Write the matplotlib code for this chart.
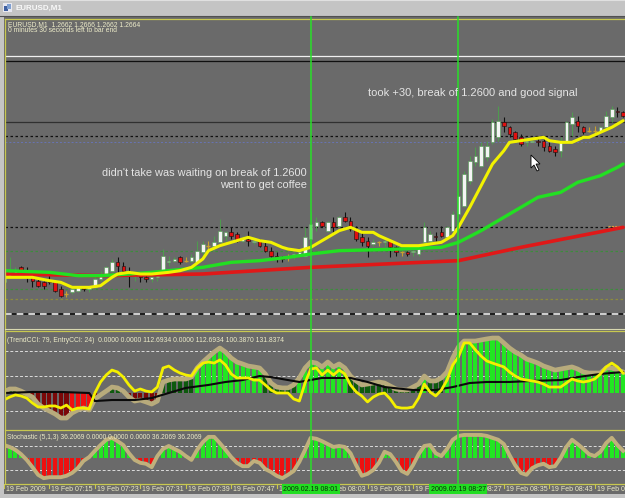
import matplotlib
matplotlib.use("Agg")
import matplotlib.pyplot as plt
from matplotlib.patches import Rectangle, Polygon
from matplotlib.lines import Line2D
import matplotlib.transforms as mtransforms

plt.rcParams['font.family'] = ['Liberation Sans', 'DejaVu Sans']

# ---------------- data ----------------
bars = list(range(110))

opens = [1.2568, 1.2572, 1.2573, 1.2577, 1.2574, 1.2571, 1.2569, 1.2568, 1.2569, 1.2568,
         1.2564, 1.2561, 1.2562, 1.2563, 1.2565, 1.2564, 1.2565, 1.2570, 1.2572, 1.2575,
         1.2580, 1.2578, 1.2575, 1.2572, 1.2573, 1.2571, 1.2570, 1.2571, 1.2574, 1.2580,
         1.2581, 1.2583, 1.2581, 1.2581, 1.2580, 1.2586, 1.2590, 1.2590, 1.2592, 1.2596,
         1.2598, 1.2597, 1.2593, 1.2594, 1.2592, 1.2593, 1.2590, 1.2587, 1.2584, 1.2583,
         1.2583, 1.2583, 1.2584, 1.2584, 1.2594, 1.2602, 1.2604, 1.2599, 1.2604, 1.2602,
         1.2607, 1.2605, 1.2600, 1.2595, 1.2593, 1.2591, 1.2592, 1.2592, 1.2593, 1.2589,
         1.2586, 1.2586, 1.2586, 1.2585, 1.2592, 1.2593, 1.2596, 1.2598, 1.2595, 1.2599,
         1.2609, 1.2614, 1.2629, 1.2640, 1.2638, 1.2643, 1.2652, 1.2655, 1.2664, 1.2661,
         1.2658, 1.2655, 1.2652, 1.2652, 1.2653, 1.2653, 1.2650, 1.2648, 1.2647, 1.2653,
         1.2663, 1.2665, 1.2661, 1.2659, 1.2659, 1.2659, 1.2661, 1.2667, 1.2671, 1.2670]
highs = [1.2575, 1.2583, 1.2577, 1.2578, 1.2577, 1.2574, 1.2571, 1.2569, 1.2574, 1.2569,
         1.2566, 1.2563, 1.2566, 1.2566, 1.2566, 1.2566, 1.2571, 1.2575, 1.2578, 1.2582,
         1.2583, 1.2580, 1.2577, 1.2575, 1.2574, 1.2573, 1.2572, 1.2574, 1.2588, 1.2584,
         1.2583, 1.2584, 1.2583, 1.2585, 1.2593, 1.2593, 1.2593, 1.2596, 1.2606, 1.2599,
         1.2601, 1.2598, 1.2596, 1.2599, 1.2595, 1.2594, 1.2592, 1.2589, 1.2586, 1.2584,
         1.2585, 1.2586, 1.2587, 1.2601, 1.2610, 1.2607, 1.2605, 1.2605, 1.2607, 1.2608,
         1.2610, 1.2607, 1.2602, 1.2598, 1.2595, 1.2594, 1.2593, 1.2595, 1.2593, 1.2590,
         1.2587, 1.2587, 1.2588, 1.2590, 1.2604, 1.2599, 1.2598, 1.2602, 1.2602, 1.2611,
         1.2622, 1.2635, 1.2644, 1.2649, 1.2652, 1.2653, 1.2666, 1.2674, 1.2667, 1.2662,
         1.2659, 1.2657, 1.2655, 1.2655, 1.2656, 1.2655, 1.2652, 1.2650, 1.2655, 1.2665,
         1.2670, 1.2668, 1.2662, 1.2661, 1.2662, 1.2662, 1.2671, 1.2674, 1.2673, 1.2671]
lows = [1.2567, 1.2571, 1.2572, 1.2573, 1.2568, 1.2565, 1.2565, 1.2564, 1.2567, 1.2562,
        1.2559, 1.2559, 1.2561, 1.2562, 1.2563, 1.2562, 1.2564, 1.2569, 1.2571, 1.2574,
        1.2574, 1.2573, 1.2565, 1.2569, 1.2568, 1.2568, 1.2568, 1.2569, 1.2574, 1.2578,
        1.2580, 1.2579, 1.2580, 1.2580, 1.2580, 1.2583, 1.2587, 1.2587, 1.2592, 1.2593,
        1.2594, 1.2592, 1.2592, 1.2590, 1.2591, 1.2589, 1.2586, 1.2583, 1.2580, 1.2580,
        1.2581, 1.2582, 1.2583, 1.2583, 1.2593, 1.2599, 1.2601, 1.2598, 1.2598, 1.2601,
        1.2604, 1.2599, 1.2593, 1.2590, 1.2583, 1.2590, 1.2590, 1.2590, 1.2583, 1.2584,
        1.2584, 1.2584, 1.2584, 1.2584, 1.2591, 1.2591, 1.2593, 1.2595, 1.2594, 1.2599,
        1.2607, 1.2613, 1.2627, 1.2638, 1.2637, 1.2641, 1.2651, 1.2653, 1.2658, 1.2655,
        1.2652, 1.2650, 1.2650, 1.2652, 1.2650, 1.2647, 1.2646, 1.2644, 1.2643, 1.2652,
        1.2656, 1.2658, 1.2657, 1.2658, 1.2657, 1.2658, 1.2661, 1.2664, 1.2667, 1.2667]
closes = [1.2574, 1.2574, 1.2575, 1.2575, 1.2571, 1.2569, 1.2566, 1.2566, 1.2568, 1.2563,
          1.2560, 1.2561, 1.2564, 1.2565, 1.2564, 1.2565, 1.2570, 1.2573, 1.2577, 1.2580,
          1.2578, 1.2575, 1.2572, 1.2573, 1.2571, 1.2570, 1.2571, 1.2572, 1.2584, 1.2581,
          1.2582, 1.2580, 1.2581, 1.2583, 1.2587, 1.2591, 1.2590, 1.2592, 1.2599, 1.2598,
          1.2596, 1.2593, 1.2594, 1.2593, 1.2593, 1.2590, 1.2587, 1.2584, 1.2582, 1.2582,
          1.2583, 1.2585, 1.2586, 1.2595, 1.2603, 1.2604, 1.2602, 1.2604, 1.2601, 1.2607,
          1.2605, 1.2600, 1.2594, 1.2592, 1.2590, 1.2592, 1.2592, 1.2593, 1.2589, 1.2586,
          1.2586, 1.2585, 1.2587, 1.2589, 1.2601, 1.2597, 1.2595, 1.2596, 1.2601, 1.2609,
          1.2620, 1.2633, 1.2641, 1.2644, 1.2650, 1.2650, 1.2664, 1.2665, 1.2662, 1.2657,
          1.2654, 1.2651, 1.2653, 1.2653, 1.2652, 1.2649, 1.2647, 1.2646, 1.2652, 1.2664,
          1.2667, 1.2662, 1.2658, 1.2659, 1.2659, 1.2661, 1.2668, 1.2672, 1.2670, 1.2668]

# moving averages on price (vertices)
fast_ma_bars = [0, 5, 8, 10, 12, 15, 17, 19, 20, 22, 24, 26, 29, 31, 33, 35, 36, 38, 40, 42,
                43, 45, 47, 49, 50, 52, 54, 56, 58, 59, 61, 63, 65, 66, 68, 70, 72, 73, 75, 77,
                79, 80, 82, 84, 86, 88, 89, 91, 93, 95, 96, 98, 100, 102, 103, 105, 107, 108, 109]
fast_ma = [1.2571, 1.2571, 1.2569, 1.2568, 1.2565, 1.2565, 1.2566, 1.2571, 1.2573, 1.2574,
           1.2573, 1.2573, 1.2574, 1.2575, 1.2577, 1.2582, 1.2587, 1.2590, 1.2592, 1.2594,
           1.2595, 1.2593, 1.2592, 1.2589, 1.2588, 1.2587, 1.2589, 1.2593, 1.2597, 1.2599,
           1.2601, 1.2598, 1.2598, 1.2596, 1.2593, 1.2590, 1.2590, 1.2590, 1.2591, 1.2592,
           1.2596, 1.2601, 1.2613, 1.2626, 1.2639, 1.2647, 1.2652, 1.2653, 1.2654, 1.2655,
           1.2653, 1.2652, 1.2652, 1.2655, 1.2655, 1.2658, 1.2661, 1.2663, 1.2665]
mid_ma_bars = [0, 8, 13, 17, 22, 26, 29, 35, 40, 45, 50, 54, 59, 70, 77, 80, 84, 87, 91, 94,
               98, 101, 105, 108, 109]
mid_ma = [1.2575, 1.2574, 1.2572, 1.2572, 1.2573, 1.2574, 1.2575, 1.2577, 1.2580, 1.2581,
          1.2583, 1.2585, 1.2587, 1.2588, 1.2589, 1.2592, 1.2599, 1.2605, 1.2613, 1.2619,
          1.2622, 1.2628, 1.2632, 1.2637, 1.2639]
slow_ma_bars = [0, 17, 35, 54, 80, 91, 100, 109]
slow_ma = [1.2573, 1.2572, 1.2573, 1.2577, 1.2581, 1.2589, 1.2595, 1.2601]

# horizontal line objects on the price chart
hline_prices = [1.2704, 1.2701, 1.2664, 1.2656, 1.2652, 1.2601, 1.2587, 1.2564, 1.2558, 1.2549]

# CCI window
trend_cci = [6, 23, 23, 11, -6, -23, -63, -86, -103, -120,
             -143, -143, -114, -97, -86, -97, -34, -11, 11, 34,
             29, 11, -23, -46, -40, -51, -63, -46, 63, 74,
             80, 80, 80, 91, 143, 177, 206, 234, 257, 234,
             200, 177, 166, 154, 149, 143, 109, 57, 34, 29,
             29, 46, 86, 143, 177, 171, 149, 177, 149, 166,
             143, 97, 69, 46, 51, 57, 63, 57, 40, 23,
             17, 17, 34, 51, 97, 69, 69, 86, 120, 200,
             263, 297, 297, 297, 303, 309, 314, 314, 286, 257,
             234, 217, 194, 183, 171, 154, 143, 131, 137, 143,
             149, 137, 120, 114, 114, 114, 143, 143, 131, 120]
trend_state = ("GGGGRRRRRR"
               "RRrrrrRRGG"
               "GGRRRRRRGG"
               "GGGGgggggg"
               "ggggggGGGG"
               "GGgggggggg"
               "gGGGGGGGGG"
               "GGGGgGGGgg"
               "gggggggggg"
               "gggggggggg"
               "gggggggggg")
entry_cci = [-40, -23, -11, -17, -29, -57, -80, -80, -74, -74,
             -86, -69, -97, -86, -86, -91, 0, 63, 103, 131,
             120, 91, 46, 11, 23, 11, 6, 34, 143, 154,
             131, 114, 103, 97, 143, 171, 177, 171, 189, 160,
             109, 86, 86, 86, 74, 74, 46, 17, 0, 0,
             0, -34, -46, 57, 137, 143, 103, 131, 103, 131,
             109, 46, 6, -17, -51, -23, -6, 0, -34, -80,
             -86, -86, -80, -29, 51, 6, -17, 17, 74, 160,
             206, 286, 286, 246, 211, 183, 171, 160, 149, 120,
             97, 80, 74, 69, 63, 51, 34, 34, 34, 57,
             80, 69, 63, 69, 80, 109, 149, 171, 149, 114]
cci_avg_bars = [0, 5, 10, 15, 16, 19, 23, 26, 29, 32, 36, 39, 42, 45, 47, 50, 52, 56, 61, 64,
                67, 72, 76, 79, 82, 85, 89, 93, 98, 101, 105, 109]
cci_avg = [0, 6, 6, 0, -46, -40, -40, -29, 0, 29, 46, 63, 74, 97, 91, 74, 63, 86, 86, 63,
           34, 17, 17, 34, 57, 63, 63, 69, 74, 91, 109, 120]
cci_levels = [240, 100, -100]

# Stochastic window
stoch = [77, 73, 67, 58, 46, 31, 15, 8, 10, 10,
         10, 13, 19, 29, 44, 52, 65, 77, 88, 92,
         85, 77, 60, 46, 40, 38, 31, 54, 69, 75,
         69, 63, 54, 46, 67, 83, 94, 94, 81, 67,
         52, 40, 33, 33, 44, 40, 27, 21, 13, 8,
         15, 23, 42, 67, 92, 90, 85, 79, 73, 75,
         73, 60, 35, 13, 17, 25, 40, 63, 58, 42,
         23, 17, 35, 58, 75, 77, 60, 54, 69, 88,
         96, 98, 98, 98, 98, 96, 92, 88, 79, 56,
         35, 19, 15, 29, 35, 38, 31, 33, 50, 73,
         88, 79, 69, 58, 54, 63, 81, 92, 77, 65]
stoch_levels = [75, 25]
stoch_mid = 50

# time axis
time_label_bars = [0, 8, 16, 24, 32, 40, 48, 56, 64, 72, 80, 88, 96, 104]
time_labels = ["19 Feb 2009", "19 Feb 07:15", "19 Feb 07:23", "19 Feb 07:31", "19 Feb 07:39",
               "19 Feb 07:47", "19 Feb 07:55", "19 Feb 08:03", "19 Feb 08:11", "19 Feb 08:19",
               "19 Feb 08:27", "19 Feb 08:35", "19 Feb 08:43", "19 Feb 08:51"]
marker_bars = [54, 80]
marker_labels = ["2009.02.19 08:01", "2009.02.19 08:27"]

# ---------------- layout ----------------
W, H = 625, 498
BG = '#6a6a6a'
FRAME = '#c4c4c4'
YEL = '#c8c850'
TXT = '#ecebc8'

fig = plt.figure(figsize=(W / 100, H / 100), dpi=100)
fig.patch.set_facecolor(BG)


def fx(px):
    return px / W


def fy(py):
    return 1 - py / H


def fig_rect(x0, y0, x1, y1, color, z=0.5):
    fig.add_artist(Rectangle((fx(x0), fy(y1)), fx(x1) - fx(x0), fy(y0) - fy(y1),
                             transform=fig.transFigure, facecolor=color, edgecolor='none', zorder=z))


def fig_line(x0, y0, x1, y1, color, lw=1.0, z=4, **kw):
    fig.add_artist(Line2D([fx(x0), fx(x1)], [fy(y0), fy(y1)], transform=fig.transFigure,
                          color=color, lw=lw, zorder=z, **kw))


# window frame
fig_rect(0, 0, W, 16, FRAME)
fig_line(0, 0.5, W, 0.5, '#e0e0e0', lw=0.8)
fig_line(0, 16, W, 16, '#505050', lw=0.8)
fig_rect(0, 16, 4, H, FRAME)
fig_rect(0, 494, W, H, FRAME)
fig_rect(3, 3, 12, 12, '#e8e8f0', z=1)
fig_rect(4, 6, 8, 11, '#4060a0', z=1.1)
fig_rect(7, 4, 11, 9, '#80a0d0', z=1.1)
fig.text(fx(15), fy(8.5), "EURUSD,M1", color='#f8f8f8', fontsize=5.8, fontweight='bold',
         ha='left', va='center', zorder=5)

xl = (0.176, 109.33)

ax_main = fig.add_axes([fx(5), fy(330), 1 - fx(5), (330 - 19) / H])
ax_cci = fig.add_axes([fx(5), fy(428), 1 - fx(5), (428 - 332) / H])
ax_sto = fig.add_axes([fx(5), fy(483), 1 - fx(5), (483 - 430) / H])
for ax in (ax_main, ax_cci, ax_sto):
    ax.set_facecolor(BG)
    ax.set_xlim(*xl)
    ax.set_xticks([])
    ax.set_yticks([])
    for s in ax.spines.values():
        s.set_visible(False)

ax_main.set_ylim(1.25394, 1.2726)
ax_cci.set_ylim(-200, 348.6)
ax_sto.set_ylim(-2.08, 108.33)

# ---- price window ----
hl_styles = [dict(color='#f0f0f0', ls='-', lw=0.9),
             dict(color='#101010', ls='-', lw=0.9),
             dict(color='#303030', ls='-', lw=0.9),
             dict(color='#101010', ls=(0, (2, 2)), lw=0.9),
             dict(color='#6874b4', ls=(0, (2, 2)), lw=0.7),
             dict(color='#101010', ls=(0, (2, 2)), lw=0.9),
             dict(color='#3c8c3c', ls=(0, (2, 2)), lw=0.9),
             dict(color='#3c8c3c', ls=(0, (2, 2)), lw=0.9),
             dict(color='#8c8c3c', ls=(0, (2, 2)), lw=0.9),
             dict(color='#101010', ls='-', lw=1.2)]
for p, st in zip(hline_prices, hl_styles):
    ax_main.axhline(p, zorder=1, **st)
ax_main.axhline(hline_prices[-1], color='#f0f0f0', ls=(0, (4, 3)), lw=1.2, zorder=1.1)
ax_main.hlines(1.2602, 106.3, 110, color='#d8a040', ls=(0, (2, 1)), lw=0.8, zorder=1.2)

for i, o, h, l, c in zip(bars, opens, highs, lows, closes):
    if c > o:
        wick, body, edge = '#4f9a4f', '#f4f4f4', '#4f9a4f'
    elif c < o:
        wick, body, edge = '#101010', '#e01010', '#101010'
    else:
        wick, body, edge = '#c8a030', '#c8a030', '#c8a030'
    ax_main.vlines(i, l, h, color=wick, lw=0.8, zorder=3)
    if c != o:
        ax_main.bar(i, abs(c - o), bottom=min(o, c), width=0.62, color=body,
                    edgecolor=edge, lw=0.4, zorder=3.1)
    else:
        ax_main.hlines(o, i - 0.35, i + 0.35, color=body, lw=1.0, zorder=3.1)

ax_main.plot(slow_ma_bars, slow_ma, color='#e01818', lw=2.6, zorder=4, solid_capstyle='round')
ax_main.plot(mid_ma_bars, mid_ma, color='#22e022', lw=2.4, zorder=4.1, solid_capstyle='round')
ax_main.plot(fast_ma_bars, fast_ma, color='#f2f200', lw=2.2, zorder=4.2, solid_capstyle='round')

# ---- CCI window ----
cci_cols = {'g': '#22e622', 'G': '#0e5a0e', 'r': '#ee1010', 'R': '#7a0808'}
ax_cci.bar(bars, trend_cci, width=0.72, color=[cci_cols[s] for s in trend_state], zorder=2)
for lv in cci_levels:
    ax_cci.axhline(lv, color='#dcdcdc', ls=(0, (3, 2)), lw=0.7, zorder=1)
ax_cci.plot(bars, trend_cci, color='#b8ab7c', lw=3.4, zorder=3, solid_joinstyle='round')
ax_cci.plot(cci_avg_bars, cci_avg, color='#0a0a0a', lw=1.5, zorder=4)
ax_cci.plot(bars, entry_cci, color='#f4f000', lw=2.0, zorder=5, solid_joinstyle='round')

# ---- Stochastic window ----
st_cols = ['#22e622' if v >= stoch_mid else '#ee1010' for v in stoch]
ax_sto.bar(bars, [v - stoch_mid for v in stoch], bottom=stoch_mid, width=0.72,
           color=st_cols, zorder=2)
for lv in stoch_levels:
    ax_sto.axhline(lv, color='#dcdcdc', ls=(0, (3, 2)), lw=0.7, zorder=1)
ax_sto.plot(bars, stoch, color='#c0b07c', lw=2.8, zorder=3, solid_joinstyle='round')

# ---- borders ----
fig_line(5, 19, W, 19, YEL, lw=0.9)
fig_line(5, 19, 5, 483, YEL, lw=0.9)
fig_line(5, 329, W, 329, '#d8d8b0', lw=0.8)
fig_line(5, 331.5, W, 331.5, YEL, lw=0.9)
fig_line(5, 429.5, W, 429.5, YEL, lw=0.9)
fig_line(5, 483.5, W, 483.5, YEL, lw=0.9)

# vertical marker lines
btf = mtransforms.blended_transform_factory(ax_main.transData, fig.transFigure)
lab_tf = mtransforms.offset_copy(btf, fig=fig, x=2, y=0, units='dots')
for b in marker_bars:
    fig.add_artist(Line2D([b, b], [fy(483), fy(17)], transform=btf, color='#28e028', lw=1.1, zorder=6))

# time axis
for b, lab in zip(time_label_bars, time_labels):
    fig.add_artist(Line2D([b, b], [fy(483.5), fy(487.5)], transform=btf, color=YEL, lw=0.8, zorder=6))
    fig.text(b, fy(489), lab, transform=lab_tf,
             color=TXT, fontsize=5.0, ha='left', va='center', zorder=6)
for b, lab in zip(marker_bars, marker_labels):
    fig.text(b, fy(489), lab, transform=btf, color='#0a2a0a', fontsize=5.0, ha='center',
             va='center', zorder=7,
             bbox=dict(boxstyle='square,pad=0.22', fc='#22dd22', ec='none'))

# indicator captions
fig.text(fx(8), fy(25), "EURUSD,M1  1.2662 1.2666 1.2662 1.2664", color=TXT, fontsize=4.9,
         ha='left', va='center', zorder=6)
fig.text(fx(8), fy(31), "0 minutes 30 seconds left to bar end", color=TXT, fontsize=4.9,
         ha='left', va='center', zorder=6)
fig.text(fx(7), fy(340), "(TrendCCI: 79, EntryCCI: 24)  0.0000 0.0000 112.6934 0.0000 112.6934 100.3870 131.8374",
         color=TXT, fontsize=4.9, ha='left', va='center', zorder=6)
fig.text(fx(7), fy(437.5), "Stochastic (5,1,3) 36.2069 0.0000 0.0000 0.0000 36.2069 36.2069",
         color=TXT, fontsize=4.8, ha='left', va='center', zorder=6)

# chart annotations
ANN = '#e4e4e4'
fig.text(fx(307), fy(172.5), "didn't take was waiting on break of 1.2600", color=ANN, fontsize=7.9,
         ha='right', va='center', zorder=6)
fig.text(fx(307), fy(185.5), "went to get coffee", color=ANN, fontsize=7.9, ha='right', va='center', zorder=6)
fig.text(fx(368), fy(93), "took +30, break of 1.2600 and good signal", color=ANN, fontsize=8.0,
         ha='left', va='center', zorder=6)

# mouse pointer
cur = [(531, 155), (531, 168), (534, 165), (537, 171), (539, 170), (536, 164), (540, 164)]
fig.add_artist(Polygon([(fx(x), fy(y)) for x, y in cur], closed=True, transform=fig.transFigure,
                       facecolor='white', edgecolor='black', lw=0.6, zorder=8))

fig.savefig("out.png", dpi=100, facecolor=fig.get_facecolor())
